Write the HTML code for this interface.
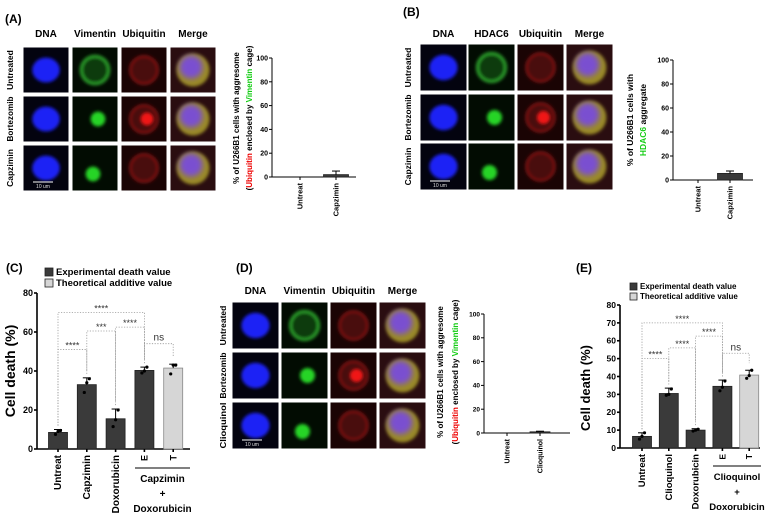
<!DOCTYPE html>
<html><head><meta charset="utf-8">
<style>
body{margin:0;background:#fff;}
svg{display:block;font-family:"Liberation Sans",sans-serif;}
.h{font-weight:bold;font-size:10px;}
</style></head>
<body>
<svg id="fig" width="768" height="523" viewBox="0 0 768 523">
<defs>
<filter id="bl" x="-50%" y="-50%" width="200%" height="200%"><feGaussianBlur stdDeviation="1.5"/></filter>
<filter id="bl2" x="-50%" y="-50%" width="200%" height="200%"><feGaussianBlur stdDeviation="3"/></filter>
</defs>
<text x="5" y="23" class="h" style="font-size:12px">(A)</text>
<text x="403" y="16" class="h" style="font-size:12px">(B)</text>
<text x="6" y="272" class="h" style="font-size:12px">(C)</text>
<text x="236" y="272" class="h" style="font-size:12px">(D)</text>
<text x="576" y="272" class="h" style="font-size:12px">(E)</text>
<g id="tiles"></g>
<g id="charts"></g>
</svg>
<script>
// ---- chart data ----
const aCats=["Untreat","Capzimin"];
const aVals=[0,2];
const aErr=[0,5];
const bCats=["Untreat","Capzimin"];
const bVals=[0,5.5];
const bErr=[0,7.5];
const dCats=["Untreat","Clioquinol"];
const dVals=[0,1];
const dErr=[0,1.5];
const aTicks=[0,20,40,60,80,100];
const cCats=["Untreat","Capzimin","Doxorubicin","E","T"];
const cVals=[8.5,33,15.5,40.3,41.5];
const cErr=[10,36.5,20.5,42,43.5];
const cPts=[[7.5,9,9.5],[29,34,36],[11.5,15,20],[39,40,42],[38.5,43,43]];
const cTicks=[0,20,40,60,80];
const cSig=[[0,1,51,"****"],[1,2,60.5,"***"],[0,3,70,"****"],[2,3,62.5,"****"],[3,4,54,"ns"]];
const eCats=["Untreat","Clioquinol","Doxorubicin","E","T"];
const eVals=[6.5,30.5,10,34.5,40.8];
const eErr=[8.5,33.5,10.8,38,43.5];
const ePts=[[5,6.5,8.5],[29.5,30,33],[9.5,10,10.5],[32,34,37.5],[39,40.5,43.5]];
const eTicks=[0,10,20,30,40,50,60,70,80];
const eSig=[[0,1,50,"****"],[1,2,56,"****"],[0,3,70,"****"],[2,3,62.6,"****"],[3,4,53,"ns"]];

const NS="http://www.w3.org/2000/svg";
function mk(tag,attrs,parent,txt){const e=document.createElementNS(NS,tag);for(const k in attrs)e.setAttribute(k,attrs[k]);if(txt!==undefined)e.textContent=txt;parent.appendChild(e);return e;}

const tiles=document.getElementById('tiles');
function tileSet(xs,ys,s,heads,hy,rows,rx,name){
  heads.forEach((h,i)=>{const t=mk('text',{x:xs[i]+s/2,y:hy,'text-anchor':'middle','class':'h'},tiles,h);
    
    });
  rows.forEach((r,j)=>{const at={x:rx,y:ys[j]+s/2,'text-anchor':'middle',style:'font-weight:bold;font-size:8.5px',transform:`rotate(-90 ${rx} ${ys[j]+s/2})`};
    if(r.length>9){at.textLength=s-1;at.lengthAdjust='spacingAndGlyphs';}
    const t=mk('text',at,tiles,r);
    
    });
  ys.forEach((y,j)=>xs.forEach((x,i)=>{
    const g=mk('g',{},tiles);
    
    
    const cx=x+s/2, cy=y+s/2;
    const bg=['#03030f','#020c02','#1a0404','#2a0d10'][i];
    mk('rect',{x:x,y:y,width:s,height:s,fill:bg},g);
    if(i===0){mk('ellipse',{cx:cx,cy:cy,rx:s*0.3,ry:s*0.27,fill:'#1f22f5',filter:'url(#bl)'},g);}
    if(i===1){if(j===0){mk('circle',{cx:cx,cy:cy,r:s*0.3,fill:'#0a3a0a',stroke:'#2ca02c','stroke-width':3,filter:'url(#bl)'},g);}
      else{mk('circle',{cx:cx+(j===1?3:-2),cy:cy+(j===1?0:6),r:s*0.16,fill:'#28d428',filter:'url(#bl)'},g);}}
    if(i===2){mk('circle',{cx:cx,cy:cy,r:s*0.3,fill:'#4a0808',stroke:'#8a1414','stroke-width':2,filter:'url(#bl)'},g);
      if(j===1)mk('circle',{cx:cx+3,cy:cy,r:s*0.14,fill:'#f01818',filter:'url(#bl)'},g);}
    if(i===3){mk('circle',{cx:cx,cy:cy,r:s*0.36,fill:'#9a8a28',filter:'url(#bl)'},g);
      mk('circle',{cx:cx-2,cy:cy-3,r:s*0.25,fill:'#7a50d0',filter:'url(#bl2)'},g);}
    mk('rect',{x:x,y:y,width:s,height:s,fill:'none',stroke:'#fff','stroke-width':1},g);
  }));
  const sb=mk('line',{x1:xs[0]+10,x2:xs[0]+30,y1:ys[2]+s-9,y2:ys[2]+s-9,stroke:'#ccc','stroke-width':1.2},tiles);
  
  
  const st=mk('text',{x:xs[0]+20,y:ys[2]+s-3,'text-anchor':'middle',fill:'#ddd','font-size':'5'},tiles,'10 um');
  
  
}
tileSet([23,72,121,170],[47,96,145],46,["DNA","Vimentin","Ubiquitin","Merge"],37,["Untreated","Bortezomib","Capzimin"],13,'panel-a');
tileSet([420,468,517,566],[44,94,143],47,["DNA","HDAC6","Ubiquitin","Merge"],37,["Untreated","Bortezomib","Capzimin"],411,'panel-b');
tileSet([232,281,330,379],[302,352,402],47,["DNA","Vimentin","Ubiquitin","Merge"],294,["Untreated","Bortezomib","Clioquinol"],226,'panel-d');

const charts=document.getElementById('charts');
function chart(o){
  const g=mk('g',{},charts);
  
  
  const Y=v=>o.y0-(v/o.ymax)*(o.y0-o.y1);
  const X=i=>o.xc[0]+i*o.step;
  mk('line',{x1:o.ax,x2:o.ax,y1:o.y1,y2:o.y0,stroke:'#000','stroke-width':o.lw},g);
  mk('line',{x1:o.ax,x2:o.xend,y1:o.y0,y2:o.y0,stroke:'#000','stroke-width':o.lw},g);
  o.ticks.forEach(t=>{
    mk('line',{x1:o.ax-3,x2:o.ax,y1:Y(t),y2:Y(t),stroke:'#000','stroke-width':o.lw},g);
    const tl=mk('text',{x:o.ax-4,y:Y(t)+o.fs*0.35,'text-anchor':'end','font-size':o.fs,'font-weight':'bold'},g,t);
    
    
  });
  o.cats.forEach((c,i)=>{
    const x=X(i);
    const light=o.light&&i===o.cats.length-1;
    const b=mk('rect',{x:x-o.bw/2,y:Y(o.vals[i]),width:o.bw,height:Math.max(0,o.y0-Y(o.vals[i])),fill:light?'#d6d6d6':'#3a3a3a',stroke:light?'#888':'#222','stroke-width':0.8},g);
    
    
    mk('line',{x1:x,x2:x,y1:Y(o.vals[i]),y2:Y(o.errs[i]),stroke:'#000','stroke-width':1},g);
    mk('line',{x1:x-4,x2:x+4,y1:Y(o.errs[i]),y2:Y(o.errs[i]),stroke:'#000','stroke-width':1},g);
    mk('line',{x1:x,x2:x,y1:o.y0,y2:o.y0+3,stroke:'#000','stroke-width':o.lw},g);
    if(o.pts)o.pts[i].forEach((p,k)=>{const d=mk('circle',{cx:x+(k-1)*2.5,cy:Y(p),r:1.6,fill:'#000'},g);
      
      });
    const short=(c==="E"||c==="T");
    const lx=x+o.fs*0.35, ly=o.y0+6;
    const t=mk('text',{x:lx,y:ly,'text-anchor':'end','font-size':short?o.fs:o.xfs,'font-weight':'bold',transform:`rotate(-90 ${lx} ${ly})`},g,c);
    
    
  });
  if(o.sig)o.sig.forEach(s=>{
    const x1=X(s[0]),x2=X(s[1]),yy=Y(s[2]);
    mk('path',{d:`M${x1} ${Y(o.errs[s[0]]+2)}V${yy}H${x2}V${Y(o.errs[s[1]]+4)}`,fill:'none',stroke:'#999','stroke-width':0.8,'stroke-dasharray':'1.2 1.5'},g);
    const st=mk('text',{x:(x1+x2)/2,y:yy-(s[3]==="ns"?3:1),'text-anchor':'middle','font-size':s[3]==="ns"?10:9,fill:'#333'},g,s[3]);
    
    
  });
  return {g,Y,X};
}
function ylab(lines,x,y,fs,gap,name){
  lines.forEach((ln,k)=>{
    const t=mk('text',{x:x+k*gap,y:y,'text-anchor':'middle','font-size':fs,'font-weight':'bold',transform:`rotate(-90 ${x+k*gap} ${y})`},charts);
    
    
    ln.forEach(seg=>{mk('tspan',{fill:seg[1]||'#000'},t,seg[0]);});
  });
}
chart({name:'chart-a',ax:272,y0:177,y1:58,ymax:100,xend:356,xc:[300],step:36,bw:25,cats:aCats,vals:aVals,errs:aErr,ticks:aTicks,fs:7,xfs:7.5,lw:1});
ylab([[["% of  U266B1 cells with aggresome"]],[["("],["Ubiquitin","#e00"],[" enclosed by "],["Vimentin","#1c1"],[" cage)"]]],239,118,8,13,'chart-a-y-title');
chart({name:'chart-b',ax:673,y0:180,y1:60,ymax:100,xend:753,xc:[698],step:32,bw:25,cats:bCats,vals:bVals,errs:bErr,ticks:aTicks,fs:7,xfs:7.5,lw:1});
ylab([[["% of  U266B1 cells with"]],[["HDAC6","#1c1"],[" aggregate"]]],633,120,8.5,13,'chart-b-y-title');
chart({name:'chart-d',ax:484,y0:433,y1:314,ymax:100,xend:570,xc:[507],step:33,bw:20,cats:dCats,vals:dVals,errs:dErr,ticks:aTicks,fs:6.5,xfs:7,lw:1});
ylab([[["% of  U266B1 cells with aggresome"]],[["("],["Ubiquitin","#e00"],[" enclosed by "],["Vimentin","#1c1"],[" cage)"]]],443,372,8,15,'chart-d-y-title');
chart({name:'chart-c',ax:37,y0:449,y1:293,ymax:80,xend:190,xc:[58],step:28.8,bw:19,cats:cCats,vals:cVals,errs:cErr,pts:cPts,ticks:cTicks,fs:9,xfs:10,lw:1.6,light:true,sig:cSig});
ylab([[["Cell death (%)"]]],15,371,14,0,'chart-c-y-title');
chart({name:'chart-e',ax:620,y0:448,y1:305,ymax:80,xend:760,xc:[642],step:26.8,bw:19,cats:eCats,vals:eVals,errs:eErr,pts:ePts,ticks:eTicks,fs:8.5,xfs:9.5,lw:1.6,light:true,sig:eSig});
ylab([[["Cell death (%)"]]],590,388,13,0,'chart-e-y-title');

function legend(x,y,fs,sz,name){
  [["Experimental death value","#3a3a3a"],["Theoretical additive value","#d6d6d6"]].forEach((l,k)=>{
    const g=mk('g',{},charts);
    
    
    mk('rect',{x:x,y:y+k*(sz+3),width:sz,height:sz,fill:l[1],stroke:'#222','stroke-width':0.8},g);
    mk('text',{x:x+sz+3,y:y+k*(sz+3)+sz-1,'font-size':fs,'font-weight':'bold'},g,l[0]);
  });
}
legend(45,268,9.5,8,'chart-c');
legend(630,283,8,7,'chart-e');
function group(x1,x2,y,name,lines,fs){
  const g=mk('g',{},charts);
  
  
  mk('line',{x1:x1,x2:x2,y1:y,y2:y,stroke:'#000','stroke-width':1},g);
  lines.forEach((l,k)=>mk('text',{x:(x1+x2)/2,y:y+14+k*15,'text-anchor':'middle','font-size':fs,'font-weight':'bold'},g,l));
}
group(135,190,468,'chart-c-combo-label',["Capzimin","+","Doxorubicin"],10);
group(713,761,466,'chart-e-combo-label',["Clioquinol","+","Doxorubicin"],9.5);
</script>
</body></html>
